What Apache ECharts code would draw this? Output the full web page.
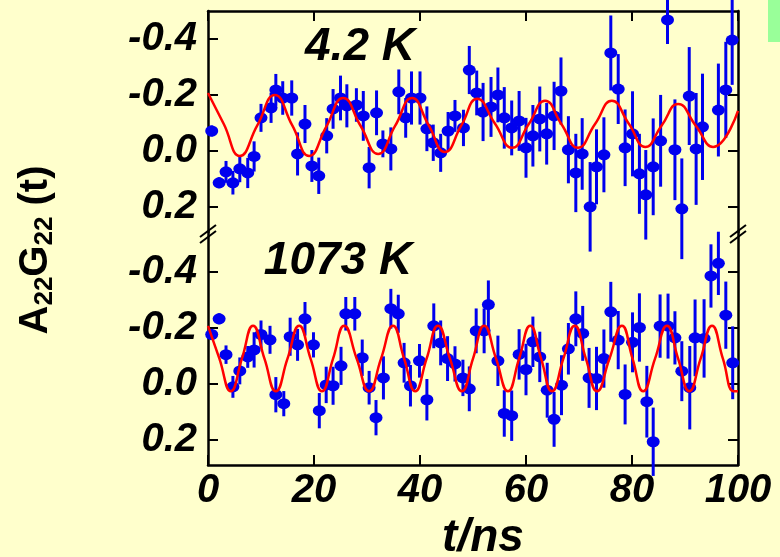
<!DOCTYPE html>
<html>
<head>
<meta charset="utf-8">
<script src="https://cdn.jsdelivr.net/npm/echarts@6/dist/echarts.min.js"></script>
<style>
  html, body { margin: 0; padding: 0; background: #ffffcc; }
  #chart { width: 780px; height: 557px; }
</style>
</head>
<body>
<div id="chart"></div>
<script>
// ---- data (t in ns, A22G22 value, error half-length) ----
var xTicks = [0, 20, 40, 60, 80, 100];
var yTicks = [-0.4, -0.2, 0, 0.2];

var lowTime = [0.7, 2.1, 3.4, 4.7, 6.0, 7.5, 8.7, 10.0, 11.9, 12.8, 14.1, 15.8, 16.9, 18.3, 19.6, 20.9,
  22.4, 23.6, 25.0, 26.2, 28.0, 29.3, 30.4, 31.8, 33.0, 34.5, 36.0, 37.3, 38.4, 40.0, 41.3, 42.5,
  43.9, 45.3, 46.6, 48.2, 49.3, 50.7, 51.9, 53.4, 54.7, 55.9, 57.3, 58.7, 60.0, 61.3, 62.6, 63.9,
  65.3, 66.6, 68.0, 69.4, 70.6, 72.1, 73.3, 74.7, 76.0, 77.4, 78.7, 80.1, 81.4, 82.6, 84.0, 85.4,
  86.7, 88.1, 89.4, 90.8, 92.1, 93.3, 96.3, 97.7, 98.9];
var lowValue = [-0.071, 0.114, 0.075, 0.114, 0.064, 0.079, 0.02, -0.118, -0.154, -0.218, -0.189, -0.189, 0.011, -0.096, 0.054, 0.089,
  -0.054, -0.15, -0.189, -0.161, -0.164, -0.125, 0.06, -0.136, -0.025, -0.007, -0.211, -0.118, -0.189, -0.189, -0.079, -0.029,
  0.007, -0.071, -0.125, -0.082, -0.289, -0.207, -0.139, -0.157, -0.2, -0.118, -0.082, -0.107, -0.011, -0.054, -0.114, -0.061,
  -0.125, -0.214, -0.004, 0.079, 0.011, 0.2, 0.057, 0.014, -0.35, -0.221, -0.011, -0.061, 0.082, 0.157, 0.057, -0.036,
  -0.468, -0.004, 0.207, -0.196, -0.007, -0.086, -0.146, -0.218, -0.396];
var lowError = [0.02, 0.02, 0.039, 0.042, 0.048, 0.054, 0.054, 0.05, 0.054, 0.057, 0.06, 0.063, 0.077, 0.068, 0.057, 0.065,
  0.063, 0.071, 0.08, 0.077, 0.06, 0.089, 0.074, 0.08, 0.048, 0.077, 0.08, 0.071, 0.095, 0.095, 0.08, 0.065,
  0.068, 0.068, 0.057, 0.065, 0.086, 0.08, 0.104, 0.107, 0.098, 0.11, 0.098, 0.107, 0.107, 0.11, 0.116, 0.11,
  0.122, 0.12, 0.12, 0.14, 0.128, 0.16, 0.134, 0.134, 0.134, 0.125, 0.137, 0.152, 0.143, 0.16, 0.173, 0.164,
  0.086, 0.18, 0.18, 0.175, 0.2, 0.19, 0.166, 0.172, 0.16];

var lowFitTime = [0, 3.0, 6.0, 9.3, 12.6, 15.9, 19.1, 22.3, 25.5, 28.8, 32.1, 35.3, 38.5, 41.6, 44.7, 47.8,
  50.8, 54.1, 57.4, 60.5, 63.6, 66.7, 69.8, 73.0, 76.2, 79.4, 82.5, 85.6, 88.7, 92.0, 95.3, 100];
var lowFitValue = [-0.207, -0.095, 0.018, -0.091, -0.2, -0.091, 0.018, -0.086, -0.189, -0.089, 0.011, -0.089, -0.189, -0.093, 0.004, -0.091,
  -0.186, -0.099, -0.011, -0.095, -0.179, -0.095, -0.011, -0.095, -0.179, -0.097, -0.014, -0.091, -0.168, -0.091, -0.014, -0.143];

var highTime = [0.7, 2.1, 3.4, 4.7, 6.0, 7.5, 8.7, 10.0, 11.7, 12.8, 14.3, 15.5, 16.9, 18.3, 19.9, 21.0,
  22.3, 23.6, 25.1, 26.0, 27.7, 29.1, 30.4, 31.7, 33.1, 34.5, 35.9, 37.0, 38.2, 39.9, 41.3, 42.6,
  43.9, 45.2, 46.6, 48.1, 49.3, 50.6, 52.1, 52.9, 54.7, 55.9, 57.3, 58.7, 60.0, 61.3, 62.6, 64.0,
  65.3, 66.7, 68.0, 69.4, 70.7, 71.9, 73.3, 74.7, 76.0, 77.4, 78.7, 80.1, 81.4, 82.8, 84.0, 85.3,
  86.8, 88.1, 89.4, 90.9, 91.9, 93.6, 94.9, 96.3, 97.7, 99.0];
var highValue = [-0.176, -0.232, -0.104, 0.011, -0.046, -0.096, -0.121, -0.176, -0.157, 0.039, 0.071, -0.168, -0.139, -0.232, -0.139, 0.096,
  0.004, 0.007, -0.064, -0.25, -0.25, -0.093, 0.014, 0.121, -0.021, -0.268, -0.25, -0.075, 0.007, -0.082, 0.057, -0.207,
  -0.146, -0.09, -0.071, -0.021, 0.018, -0.189, -0.189, -0.283, -0.082, 0.106, 0.114, -0.105, -0.051, -0.15, -0.096, 0.023,
  0.127, 0.005, -0.125, -0.232, -0.18, -0.021, -0.019, -0.09, -0.257, -0.156, 0.038, -0.148, -0.201, 0.064, 0.207, -0.206,
  -0.206, -0.164, -0.045, 0.014, -0.164, -0.162, -0.385, -0.43, -0.245, -0.075];
var highError = [0.02, 0.02, 0.033, 0.039, 0.048, 0.039, 0.063, 0.05, 0.05, 0.063, 0.045, 0.068, 0.057, 0.06, 0.045, 0.063,
  0.065, 0.068, 0.068, 0.06, 0.06, 0.065, 0.06, 0.063, 0.077, 0.071, 0.068, 0.071, 0.074, 0.06, 0.074, 0.08,
  0.08, 0.08, 0.063, 0.065, 0.08, 0.08, 0.08, 0.086, 0.09, 0.083, 0.09, 0.09, 0.092, 0.09, 0.09, 0.098,
  0.098, 0.107, 0.092, 0.098, 0.098, 0.107, 0.113, 0.104, 0.107, 0.104, 0.107, 0.107, 0.122, 0.128, 0.122, 0.113,
  0.116, 0.095, 0.107, 0.149, 0.137, 0.14, 0.113, 0.113, 0.12, 0.13];

var highFitTime = [0, 2.15, 4.3, 6.4, 8.5, 10.65, 12.8, 15.0, 17.2, 19.35, 21.5, 23.6, 25.7, 28.05, 30.4, 32.65,
  34.9, 37.0, 39.1, 41.25, 43.4, 45.65, 47.9, 50.0, 52.1, 54.35, 56.6, 58.7, 60.8, 62.85, 64.9, 67.05,
  69.2, 71.3, 73.4, 75.75, 78.1, 80.1, 82.1, 84.35, 86.6, 88.7, 90.8, 92.95, 95.1, 97.15, 99.2, 100];
var highFitValue = [-0.207, -0.09, 0.027, -0.09, -0.207, -0.09, 0.027, -0.09, -0.207, -0.09, 0.027, -0.09, -0.207, -0.09, 0.027, -0.09,
  -0.207, -0.09, 0.027, -0.09, -0.207, -0.09, 0.027, -0.09, -0.207, -0.09, 0.027, -0.09, -0.207, -0.09, 0.027, -0.09,
  -0.207, -0.09, 0.027, -0.09, -0.207, -0.09, 0.027, -0.09, -0.207, -0.09, 0.027, -0.09, -0.207, -0.09, 0.027, 0.027];

var FONT = '"Liberation Sans", Arial, sans-serif';
var BLUE = '#0000ee';

function zip() {
  var cols = arguments;
  return cols[0].map(function (_, i) {
    return Array.prototype.map.call(cols, function (c) { return c[i]; });
  });
}

function fmtY(v) {
  if (Math.abs(v) < 1e-9) return '0.0';
  return (v < 0 ? '-' : '') + Math.abs(v).toFixed(1);
}

function errorBars(idx, data) {
  return {
    type: 'custom', xAxisIndex: idx, yAxisIndex: idx * 2, clip: false, z: 2,
    data: data,
    renderItem: function (params, api) {
      var a = api.coord([api.value(0), api.value(1) - api.value(2)]);
      var b = api.coord([api.value(0), api.value(1) + api.value(2)]);
      return { type: 'line', shape: { x1: a[0], y1: a[1], x2: b[0], y2: b[1] },
        style: { stroke: BLUE, lineWidth: 3 } };
    }
  };
}

function xAxis(idx, pos, showLabel) {
  return {
    type: 'value', gridIndex: idx, position: pos, min: 0, max: 100, interval: 20,
    axisLine: { show: true, onZero: false, lineStyle: { color: '#000', width: 2.5 } },
    axisTick: { show: true, inside: true, length: 10, lineStyle: { color: '#000', width: 2 } },
    axisLabel: { show: showLabel, margin: 6, color: '#000', fontFamily: FONT, fontSize: 40,
      fontWeight: 'bold', fontStyle: 'italic' },
    splitLine: { show: false }
  };
}

function yAxis(idx, pos, min, max, showLabel) {
  return {
    type: 'value', gridIndex: idx, position: pos, inverse: true, min: min, max: max,
    axisLine: { show: true, onZero: false, lineStyle: { color: '#000', width: 2.5 } },
    axisTick: { show: true, inside: true, length: 10, customValues: yTicks,
      lineStyle: { color: '#000', width: 2 } },
    axisLabel: { show: showLabel, customValues: yTicks, formatter: fmtY, margin: 11, color: '#000',
      fontFamily: FONT, fontSize: 40, fontWeight: 'bold', fontStyle: 'italic' },
    splitLine: { show: false }
  };
}

function breakMark(x, y) {
  return { type: 'group', x: x, y: y, z: 100, children: [
    { type: 'polygon', shape: { points: [[-8, 5], [8, -7], [8, -2], [-8, 10]] }, style: { fill: '#ffffcc' } },
    { type: 'line', shape: { x1: -8, y1: 4, x2: 8, y2: -8 }, style: { stroke: '#000', lineWidth: 2 } },
    { type: 'line', shape: { x1: -8, y1: 10, x2: 8, y2: -2 }, style: { stroke: '#000', lineWidth: 2 } }
  ] };
}

var chart = echarts.init(document.getElementById('chart'));
chart.setOption({
  backgroundColor: '#ffffcc',
  animation: false,
  grid: [
    { left: 208, right: 42, top: 11, height: 221 },
    { left: 208, right: 42, top: 232, height: 233 }
  ],
  xAxis: [xAxis(0, 'top', false), xAxis(1, 'bottom', true)],
  yAxis: [
    yAxis(0, 'left', -0.5, 0.29, true), yAxis(0, 'right', -0.5, 0.29, false),
    yAxis(1, 'left', -0.542, 0.29, true), yAxis(1, 'right', -0.542, 0.29, false)
  ],
  series: [
    errorBars(0, zip(lowTime, lowValue, lowError)),
    { type: 'scatter', xAxisIndex: 0, yAxisIndex: 0, z: 3, symbolSize: [13, 11],
      itemStyle: { color: BLUE, opacity: 1 }, data: zip(lowTime, lowValue) },
    { type: 'line', xAxisIndex: 0, yAxisIndex: 0, z: 4, smooth: 0.5, showSymbol: false,
      lineStyle: { color: '#ff0000', width: 2.5 }, data: zip(lowFitTime, lowFitValue) },
    errorBars(1, zip(highTime, highValue, highError)),
    { type: 'scatter', xAxisIndex: 1, yAxisIndex: 2, z: 3, symbolSize: [13, 11],
      itemStyle: { color: BLUE, opacity: 1 }, data: zip(highTime, highValue) },
    { type: 'line', xAxisIndex: 1, yAxisIndex: 2, z: 4, smooth: 0.5, showSymbol: false,
      lineStyle: { color: '#ff0000', width: 2.5 }, data: zip(highFitTime, highFitValue) }
  ],
  graphic: [
    { type: 'rect', left: 768, top: 0, shape: { width: 12, height: 42 }, style: { fill: '#99ff99' } },
    breakMark(208, 233),
    breakMark(738, 233),
    { type: 'text', x: 360, y: 47, z: 50, style: { text: '4.2 K', fill: '#000',
      font: 'italic bold 46px ' + FONT, align: 'center', verticalAlign: 'middle',
      textAlign: 'center', textVerticalAlign: 'middle' } },
    { type: 'text', x: 338, y: 261, z: 50, style: { text: '1073 K', fill: '#000',
      font: 'italic bold 46px ' + FONT, align: 'center', verticalAlign: 'middle',
      textAlign: 'center', textVerticalAlign: 'middle' } },
    { type: 'text', x: 483, y: 538, z: 50, style: { text: 't/ns', fill: '#000',
      font: 'italic bold 46px ' + FONT, align: 'center', verticalAlign: 'middle',
      textAlign: 'center', textVerticalAlign: 'middle' } },
    { type: 'text', x: 36, y: 250, rotation: Math.PI / 2, z: 50, style: {
      text: '{n|A}{s|22}{n|G}{s|22}{n| (t)}', fill: '#000',
      align: 'center', verticalAlign: 'middle', textAlign: 'center', textVerticalAlign: 'middle',
      rich: {
        n: { font: 'bold 40px ' + FONT, fill: '#000', lineHeight: 44 },
        s: { font: 'bold 26px ' + FONT, fill: '#000', lineHeight: 20, verticalAlign: 'bottom' }
      } } }
  ]
});
</script>
</body>
</html>
